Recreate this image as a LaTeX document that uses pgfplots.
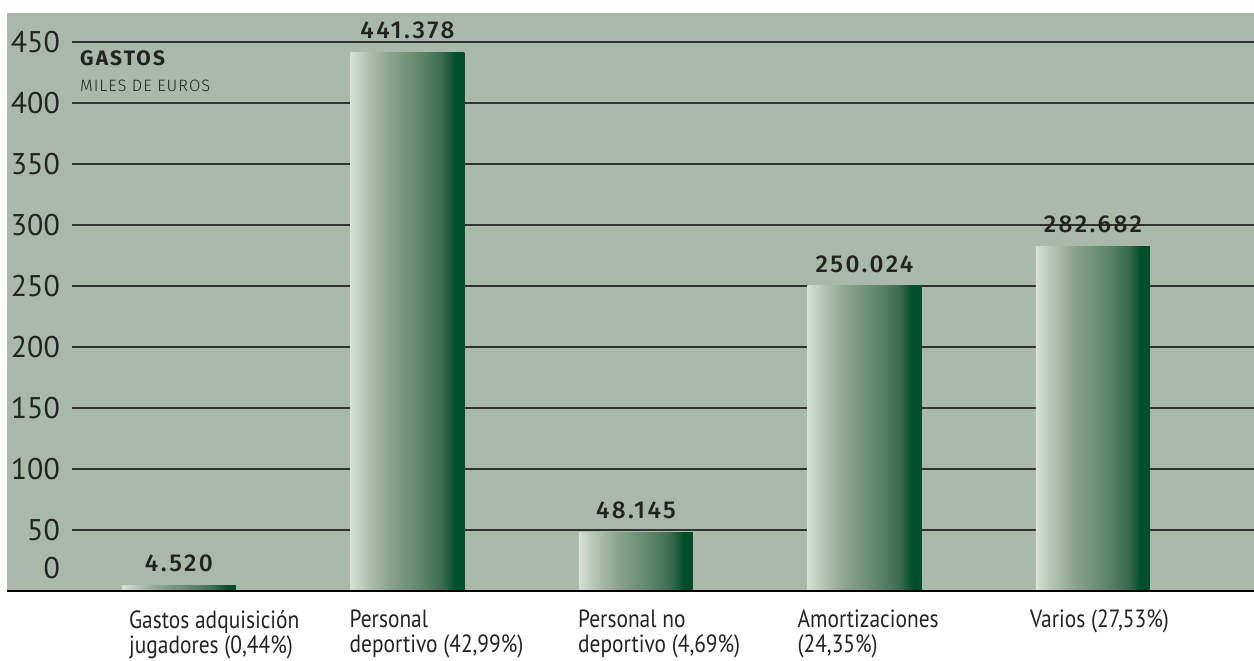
\documentclass[border=0pt]{standalone}
\usepackage{fontspec}
\setmainfont{PT Sans}
\newfontfamily\condfont{PT Sans}[FakeStretch=0.86]
\newfontfamily\valfont{Fira Sans}[UprightFont={* Medium}, LetterSpace=10]
\newfontfamily\headfont{Fira Sans}[UprightFont={* Bold}, LetterSpace=10]
\newfontfamily\lightfont{Fira Sans}[UprightFont={* Light}, LetterSpace=6]
\usepackage{pgfplots}
\pgfplotsset{compat=1.18}
\definecolor{panel}{RGB}{169,184,170}
\definecolor{gridc}{RGB}{50,50,50}
\definecolor{txt}{RGB}{35,35,35}
\definecolor{s0}{RGB}{216,224,216}
\definecolor{s1}{RGB}{184,198,185}
\definecolor{s2}{RGB}{138,162,140}
\definecolor{s3}{RGB}{98,136,108}
\definecolor{s4}{RGB}{60,108,80}
\definecolor{s5}{RGB}{0,78,44}
\pgfdeclarehorizontalshading{barshade}{100bp}{color(0bp)=(s0); color(25bp)=(s0); color(31bp)=(s1); color(42bp)=(s2); color(55bp)=(s3); color(65bp)=(s4); color(71bp)=(s5); color(75bp)=(s5); color(100bp)=(s5)}
\begin{document}
\begin{tikzpicture}[x=1bp,y=1bp]
\useasboundingbox (0,0) rectangle (1254,661);
\fill[panel] (7,70) rectangle (1254,648);
\begin{axis}[
  at={(72bp,70bp)}, anchor=south west,
  scale only axis, width=1182bp, height=578bp,
  xmin=-0.468, xmax=4.705, ymin=0, ymax=473.8,
  clip=false,
  axis line style={draw=none},
  major tick length=0pt,
  ytick={0,50,...,450},
  ymajorgrids,
  grid style={gridc, line width=1.8bp},
  /pgf/number format/assume math mode=true,
  yticklabel={\ifnum\ticknum=0 \raisebox{12.5bp}[0pt][0pt]{0}\else\pgfmathprintnumber{\tick}\fi},
  yticklabel style={font=\fontsize{30}{30}\selectfont, text=txt, anchor=east, inner sep=0pt, xshift=-12bp},
  xtick={0,1,2,3,4},
  xticklabels={{\hspace*{8bp}Gastos adquisición\\\hspace*{8bp}jugadores (0,44\%)},{Personal\\deportivo (42,99\%)},{Personal no\\deportivo (4,69\%)},{\hspace*{-9bp}Amortizaciones\\\hspace*{-9bp}(24,35\%)},{\hspace*{-5bp}Varios (27,53\%)}},
  xticklabel style={font=\condfont\fontsize{25}{25}\selectfont, text=txt, anchor=north west, align=left, inner sep=0pt, xshift=-58bp, yshift=-19bp},
  nodes near coords,
  point meta=explicit symbolic,
  nodes near coords style={font=\valfont\fontsize{24.5}{25}\selectfont, text=txt, anchor=south, inner sep=0pt, yshift=13bp},
  barsty/.style={ybar, bar width=114bp, bar shift=0pt, draw=none, mark=none, shading=barshade},
]
\addplot[barsty] coordinates {(0,4.520)[4.520]};
\addplot[barsty] coordinates {(1,441.378)[441.378]};
\addplot[barsty] coordinates {(2,48.145)[48.145]};
\addplot[barsty] coordinates {(3,250.024)[250.024]};
\addplot[barsty] coordinates {(4,282.682)[282.682]};
\end{axis}
\draw[line width=2bp, black] (7,70) -- (1254,70);
\node[anchor=base west, inner sep=0pt, text=txt, font=\headfont\fontsize{21}{21}\selectfont] at (80,595) {GASTOS};
\node[anchor=base west, inner sep=0pt, text=txt, font=\lightfont\fontsize{16.5}{17}\selectfont] at (80,569) {MILES DE EUROS};
\end{tikzpicture}
\end{document}
